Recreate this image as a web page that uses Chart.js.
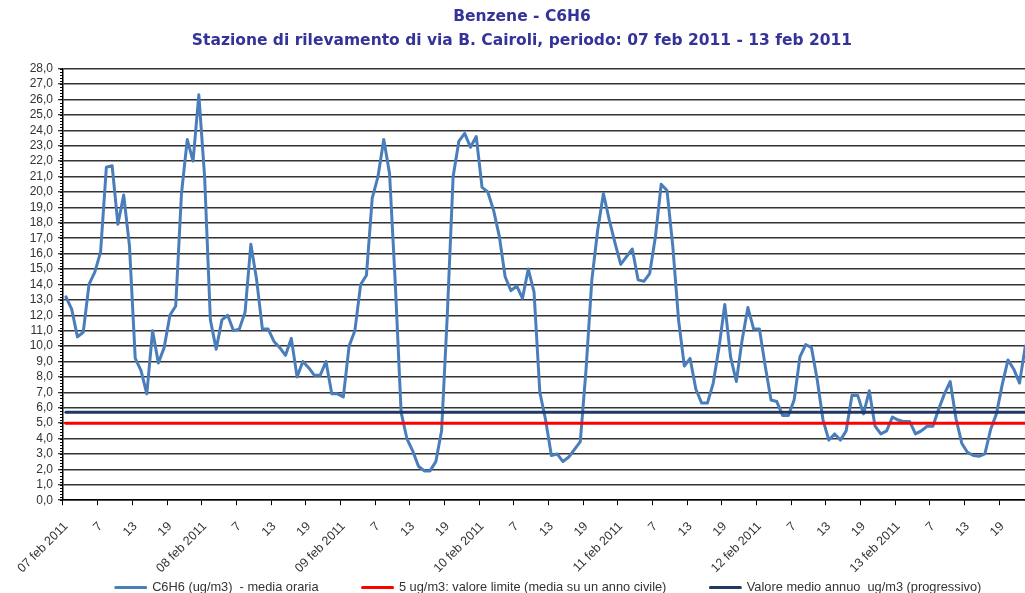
<!DOCTYPE html>
<html lang="it">
<head>
<meta charset="UTF-8">
<title>Benzene - C6H6</title>
<script src="https://cdn.jsdelivr.net/npm/chart.js"></script>
<style>
  html, body { margin: 0; padding: 0; background: #fff; overflow: hidden; }
  #wrap { width: 1060px; height: 604px; }
</style>
</head>
<body>
<div id="wrap"><canvas id="myChart" width="1060" height="604"></canvas></div>
<script>
// days shown on the x axis, one value per hour
const days = ['07 feb 2011', '08 feb 2011', '09 feb 2011', '10 feb 2011', '11 feb 2011', '12 feb 2011', '13 feb 2011'];
const hours = [1, 2, 3, 4, 5, 6, 7, 8, 9, 10, 11, 12, 13, 14, 15, 16, 17, 18, 19, 20, 21, 22, 23, 24];

// C6H6 hourly mean (ug/m3)
const benzene = [
  13.2, 12.4, 10.6, 10.9, 14.0, 14.8, 16.1, 21.6, 21.7, 17.9, 19.8, 16.5, 9.2, 8.4, 6.9, 11.0, 8.9, 9.9, 12.0, 12.6, 19.9, 23.4, 22.0, 26.3,
  21.0, 11.7, 9.8, 11.7, 12.0, 11.0, 11.1, 12.2, 16.6, 14.3, 11.1, 11.1, 10.3, 9.9, 9.4, 10.5, 8.0, 9.0, 8.6, 8.1, 8.1, 9.0, 6.9, 6.9,
  6.7, 10.0, 11.0, 14.0, 14.6, 19.6, 21.0, 23.4, 21.2, 14.0, 5.7, 4.0, 3.2, 2.2, 1.9, 1.9, 2.5, 4.5, 12.1, 21.0, 23.3, 23.8, 22.9, 23.6,
  20.3, 20.0, 18.8, 17.1, 14.5, 13.6, 13.9, 13.1, 15.0, 13.5, 7.0, 5.2, 2.9, 3.0, 2.5, 2.8, 3.3, 3.8, 8.5, 14.3, 17.5, 19.9, 18.2, 16.7,
  15.3, 15.8, 16.3, 14.3, 14.2, 14.7, 17.1, 20.5, 20.1, 16.5, 11.7, 8.7, 9.2, 7.2, 6.3, 6.3, 7.6, 9.9, 12.7, 9.3, 7.7, 10.4, 12.5, 11.1,
  11.1, 8.7, 6.5, 6.4, 5.5, 5.5, 6.5, 9.3, 10.1, 9.9, 7.8, 5.2, 3.9, 4.3, 3.9, 4.5, 6.8, 6.8, 5.6, 7.1, 4.8, 4.3, 4.5, 5.4,
  5.2, 5.1, 5.1, 4.3, 4.5, 4.8, 4.8, 5.9, 6.9, 7.7, 5.3, 3.7, 3.1, 2.9, 2.85, 3.0, 4.6, 5.6, 7.5, 9.1, 8.5, 7.6, 10.0, 10.5
];

const limitValue = 5.0;   // valore limite
const annualMean = 5.7;   // valore medio annuo progressivo
const yMax = 28;

const seriesNames = [
  'C6H6 (ug/m3)  - media oraria',
  '5 ug/m3: valore limite (media su un anno civile)',
  'Valore medio annuo  ug/m3 (progressivo)'
];
const titleLines = [
  'Benzene - C6H6',
  'Stazione di rilevamento di via B. Cairoli, periodo: 07 feb 2011 - 13 feb 2011'
];

// first hour of each day gets the date, the others the hour number
const labels = [];
days.forEach(d => {
  hours.forEach(h => labels.push(h === 1 ? d : String(h)));
});

const fontFamily = "'Liberation Sans', Arial, sans-serif";

const axisExtras = {
  id: 'axisExtras',
  // let the rotated x labels run below the (short) axis box
  afterLayout(chart) {
    chart.scales.x.bottom = chart.height;
  },
  // small tick marks on the y axis between the labelled ones
  afterDraw(chart) {
    const y = chart.scales.y;
    const ctx = chart.ctx;
    const x0 = chart.chartArea.left;
    ctx.save();
    ctx.strokeStyle = '#000';
    ctx.lineWidth = 1;
    ctx.beginPath();
    for (let k = 0; k <= yMax * 5; k++) {
      const py = Math.round(y.getPixelForValue(k / 5)) + 0.5;
      ctx.moveTo(x0 - 3, py);
      ctx.lineTo(x0, py);
    }
    ctx.stroke();
    ctx.restore();
  }
};

const lineStyle = { borderWidth: 3, pointRadius: 0, borderJoinStyle: 'round', borderCapStyle: 'round' };

new Chart(document.getElementById('myChart'), {
  type: 'line',
  data: {
    labels: labels,
    datasets: [{
      ...lineStyle,
      label: seriesNames[0],
      data: benzene,
      borderColor: '#4a7ebb',
      backgroundColor: '#4a7ebb',
      order: 3
    }, {
      ...lineStyle,
      label: seriesNames[1],
      data: benzene.map(() => limitValue),
      borderColor: '#ff0000',
      backgroundColor: '#ff0000',
      order: 2
    }, {
      ...lineStyle,
      label: seriesNames[2],
      data: benzene.map(() => annualMean),
      borderColor: '#1f3864',
      backgroundColor: '#1f3864',
      order: 1
    }]
  },
  options: {
    responsive: false,
    animation: false,
    // the plot runs past the right edge of the window, as in the original
    layout: { padding: { left: 10, right: 26, top: 0, bottom: 0 } },
    plugins: {
      title: {
        display: true,
        text: titleLines,
        color: '#333399',
        font: { family: "'DejaVu Sans', Verdana, sans-serif", size: 15.5, weight: 'bold', lineHeight: 1.55 },
        padding: { top: 5, bottom: 15.6 }
      },
      legend: {
        position: 'bottom',
        fullSize: false,
        labels: {
          boxWidth: 30,
          boxHeight: 0,
          padding: 44,
          color: '#333',
          font: { family: fontFamily, size: 12.8 },
          sort: (a, b) => a.datasetIndex - b.datasetIndex
        }
      },
      tooltip: { enabled: false }
    },
    scales: {
      x: {
        offset: true,
        grid: {
          drawOnChartArea: false,
          offset: true,
          tickLength: 5,
          tickWidth: 1,
          tickColor: c => (c.index % 6 === 0 ? '#000' : 'rgba(0,0,0,0)')
        },
        border: { color: '#000', width: 1.5 },
        ticks: {
          autoSkip: false,
          minRotation: 45,
          maxRotation: 45,
          padding: 14,
          color: '#333',
          font: { family: fontFamily, size: 12.5 },
          callback: (v, i) => (i % 6 === 0 ? labels[i] : '')
        },
        afterFit: s => { s.height = 37; }
      },
      y: {
        min: 0,
        max: yMax,
        grid: { color: '#333', lineWidth: 1.5, tickLength: 5, tickColor: '#000', tickWidth: 1 },
        border: { color: '#000', width: 1.5 },
        ticks: {
          stepSize: 1,
          autoSkip: false,
          padding: 5,
          color: '#333',
          font: { family: fontFamily, size: 12, lineHeight: 1 },
          callback: v => v.toFixed(1).replace('.', ',')
        },
        afterFit: s => { s.width = 53; }
      }
    }
  },
  plugins: [axisExtras]
});
</script>
</body>
</html>
